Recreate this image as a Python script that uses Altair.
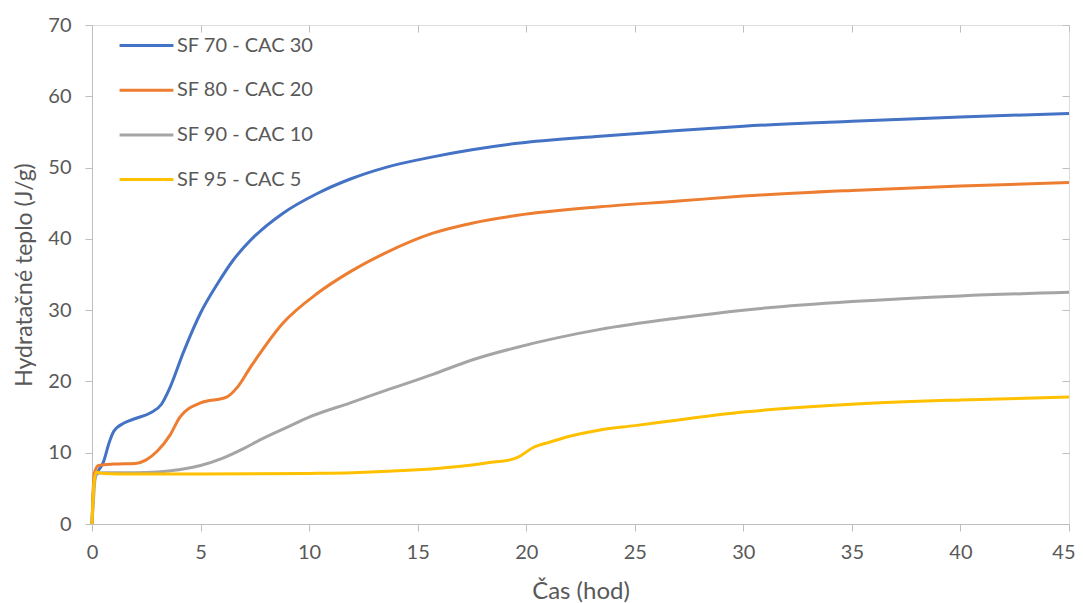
import altair as alt
import pandas as pd

series_names = ["SF 70 - CAC 30", "SF 80 - CAC 20", "SF 90 - CAC 10", "SF 95 - CAC 5"]
colors = ["#4472C4", "#ED7D31", "#A5A5A5", "#FFC000"]

t1 = [0, 0.1, 0.3, 0.5, 0.8, 1, 1.5, 2, 2.7, 3.2, 3.6, 4.2, 5, 5.8, 6.5, 7.3, 8.8, 10.4, 11.9, 13.5, 15.7, 17.5, 19.6, 23.4, 27, 30, 35, 40, 45]
v1 = [0, 6, 7.5, 8.5, 11.5, 13, 14.2, 14.8, 15.6, 16.8, 19.2, 24, 29.6, 33.8, 37, 39.8, 43.6, 46.4, 48.4, 50.0, 51.5, 52.5, 53.4, 54.4, 55.2, 55.8, 56.5, 57.1, 57.6]

t2 = [0, 0.1, 0.3, 1, 2, 2.5, 3, 3.6, 4.05, 5, 6.2, 6.7, 7.3, 8.8, 10.4, 11.9, 13.5, 15.7, 17.5, 19.6, 23.4, 27, 30, 35, 40, 45]
v2 = [0, 7, 8.2, 8.4, 8.5, 9, 10.2, 12.5, 15.0, 17.0, 17.8, 19.2, 22, 28.2, 32.4, 35.4, 38, 40.8, 42.2, 43.3, 44.5, 45.3, 46, 46.8, 47.4, 47.9]

t3 = [0, 0.2, 0.5, 1, 2, 3, 4, 5, 6, 7, 7.74, 9, 10, 11.9, 13.5, 15.7, 17.5, 19.6, 23.4, 27, 30, 35, 40, 45]
v3 = [0, 7, 7.2, 7.2, 7.2, 7.3, 7.6, 8.2, 9.2, 10.6, 11.8, 13.6, 15.0, 17.0, 18.7, 21.0, 23.0, 24.8, 27.3, 28.9, 30, 31.2, 32, 32.5]

t4 = [0, 0.1, 0.2, 0.5, 2, 5, 10, 12, 15, 17, 18.5, 19.25, 19.7, 20.3, 21.1, 22, 23.4, 25, 27, 30, 35, 40, 45]
v4 = [0, 6, 7.3, 7.1, 7.0, 7.0, 7.1, 7.2, 7.6, 8.1, 8.7, 9.0, 9.5, 10.7, 11.5, 12.3, 13.2, 13.8, 14.6, 15.7, 16.8, 17.4, 17.8]

x_ticks = [0, 5, 10, 15, 20, 25, 30, 35, 40, 45]
y_ticks = [0, 10, 20, 30, 40, 50, 60, 70]

rows = []
for name, ts, vs in zip(series_names, [t1, t2, t3, t4], [v1, v2, v3, v4]):
    for t, v in zip(ts, vs):
        rows.append({"series": name, "t": t, "q": v})
df = pd.DataFrame(rows)

FONT = "Lato"
TXT = "#595959"
AX = "#BFBFBF"

xscale = alt.Scale(domain=[0, 45], nice=False, zero=False)
yscale = alt.Scale(domain=[0, 70], nice=False)

main = alt.Chart(df).mark_line(strokeWidth=3, interpolate="monotone").encode(
    x=alt.X("t:Q", scale=xscale, axis=alt.Axis(
        title="Čas (hod)", values=x_ticks, grid=False, domainColor=AX, tickColor=AX,
        tickSize=7, labelFontSize=20, labelColor=TXT, labelFont=FONT, labelPadding=11,
        labelFlush=False,
        labelAlign=alt.expr("datum.value >= 45 ? 'right' : 'center'"),
        labelOffset=alt.expr("datum.value >= 45 ? 6 : 0"),
        titleFont=FONT, titleFontSize=24, titleColor=TXT, titleFontWeight="normal", titlePadding=17)),
    y=alt.Y("q:Q", scale=yscale, axis=alt.Axis(
        title="Hydratačné teplo (J/g)", values=y_ticks, grid=False, domainColor=AX, tickColor=AX,
        tickSize=7, labelFontSize=20, labelColor=TXT, labelFont=FONT, labelPadding=14,
        titleFont=FONT, titleFontSize=23, titleColor=TXT, titleFontWeight="normal", titlePadding=11)),
    color=alt.Color("series:N", scale=alt.Scale(domain=series_names, range=colors),
                    sort=series_names,
                    legend=alt.Legend(title=None, orient="none", legendX=26, legendY=-8,
                                      symbolType="stroke", symbolStrokeWidth=3, symbolSize=2900,
                                      labelFontSize=20, labelFont=FONT, labelColor=TXT,
                                      labelOffset=2, rowPadding=5.7, padding=0)),
)

inner = alt.Chart(df).mark_line(opacity=0).encode(
    x=alt.X("t:Q", scale=xscale, axis=alt.Axis(
        title=None, values=x_ticks, grid=False, domain=False, labels=False,
        tickColor=AX, tickSize=7, offset=-7)),
    y=alt.Y("q:Q", scale=yscale, axis=alt.Axis(
        title=None, values=y_ticks, grid=False, domain=False, labels=False,
        tickColor=AX, tickSize=7, offset=-7)),
    detail="series:N",
)

chart = alt.layer(main, inner).resolve_axis(x="independent", y="independent").properties(
    width=977, height=499,
    padding={"left": 84, "top": 17, "right": 6, "bottom": 79},
    autosize="none",
).configure_view(stroke=None).configure(background="white")

chart.save("out.html", embed_options={"renderer": "svg", "actions": False})
